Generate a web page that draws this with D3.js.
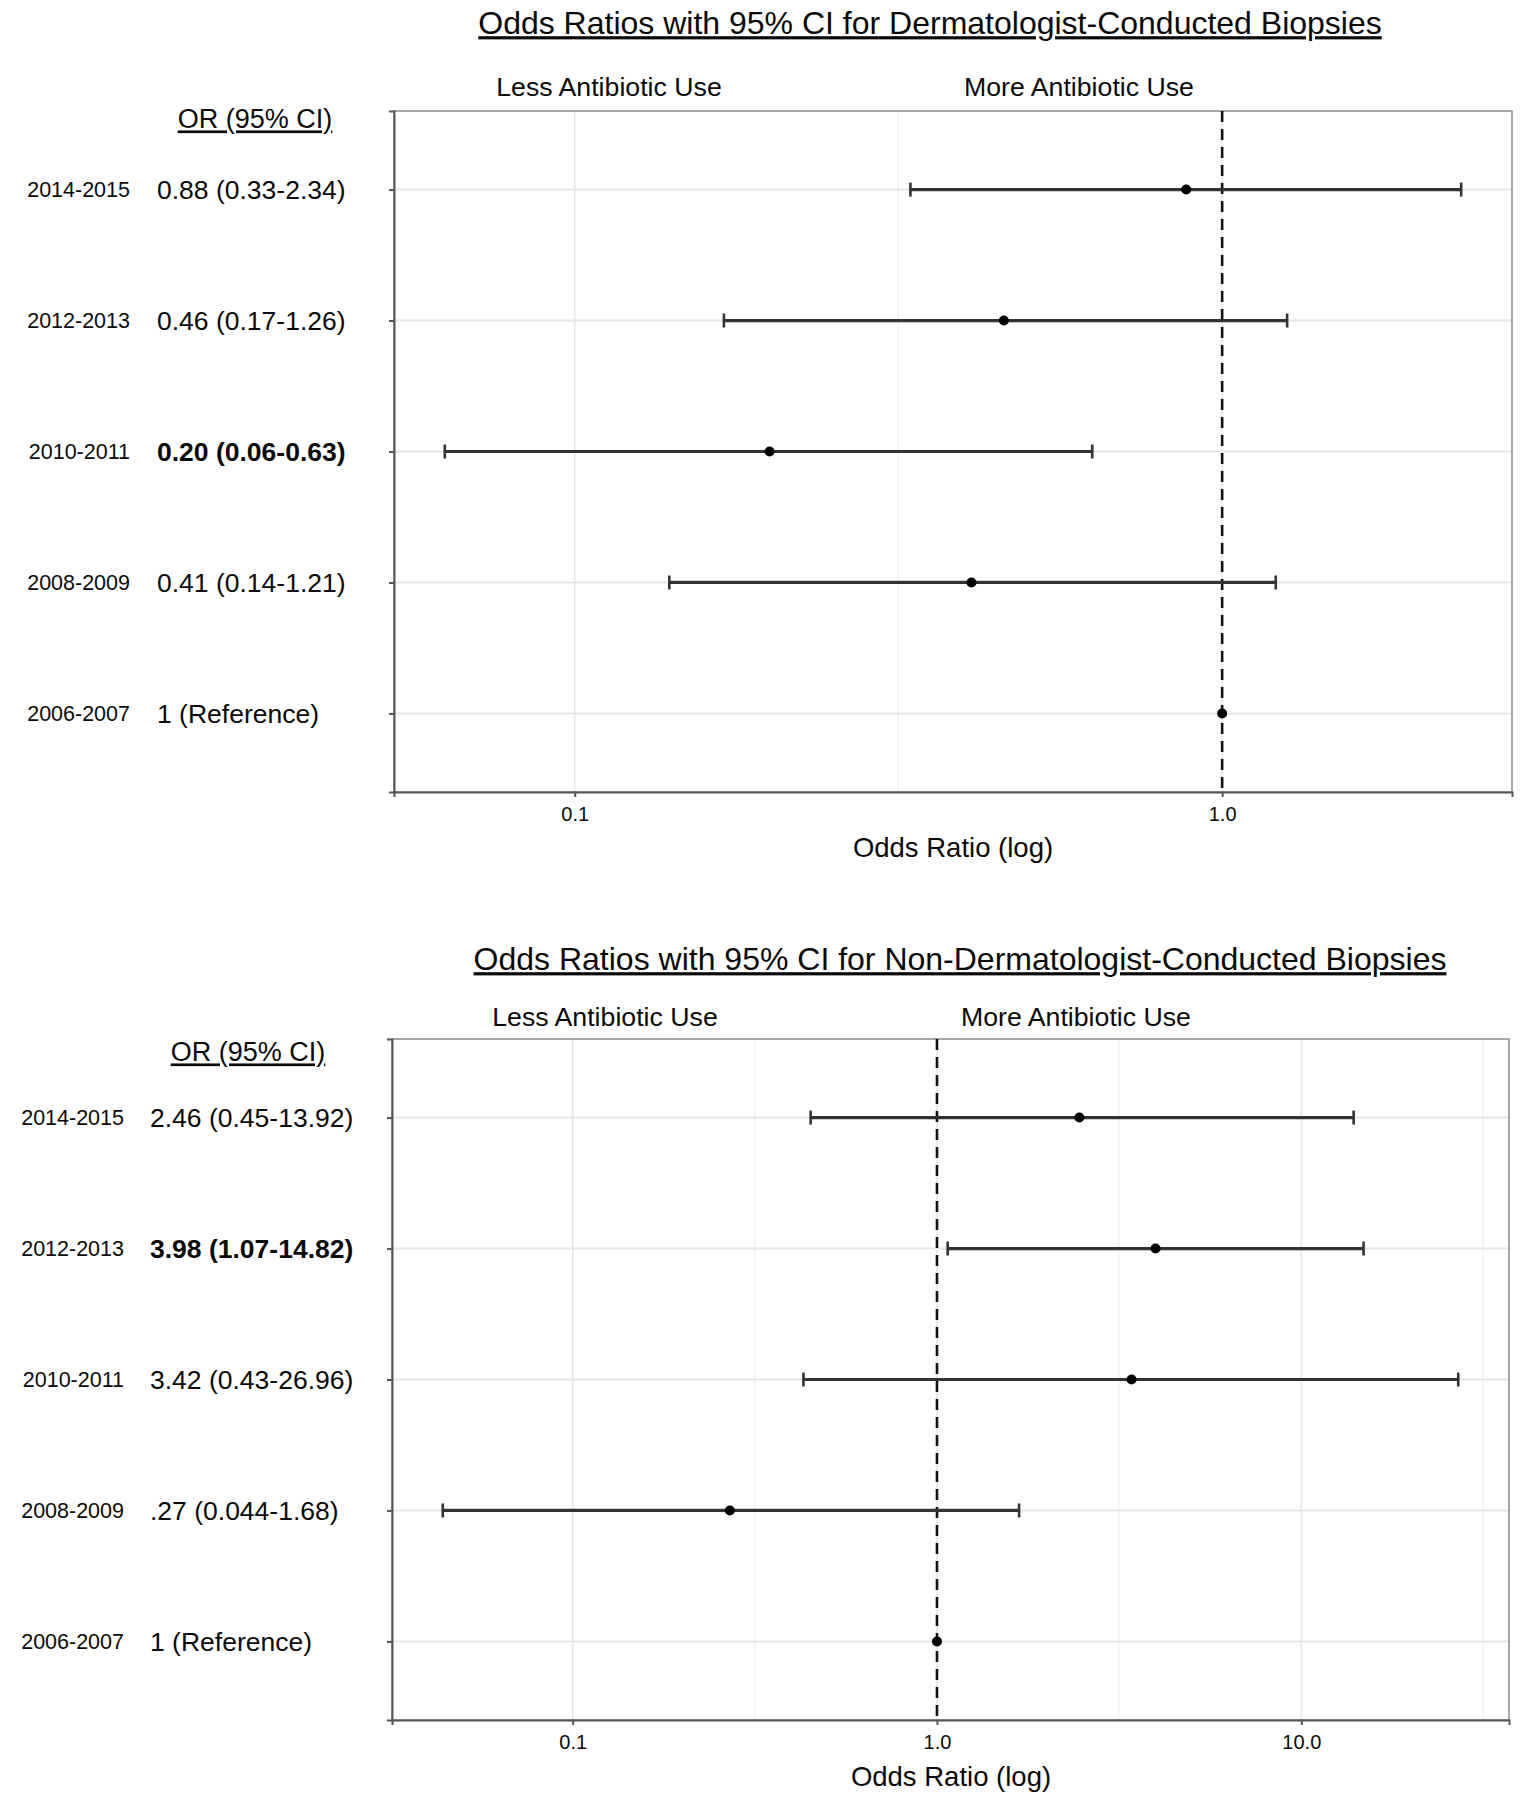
<!DOCTYPE html>
<head>
  <meta charset="utf-8">
  <title>Odds Ratios with 95% CI</title>
  <style>
    body { margin: 0; background: #fff; }
    svg text { font-family: "Liberation Sans", Arial, sans-serif; fill: #0a0a0a; }
  </style>
</head>
<body>
<script src="https://d3js.org/d3.v7.min.js"></script>
<script>
// Rows, top to bottom
var years = ["2014-2015", "2012-2013", "2010-2011", "2008-2009", "2006-2007"];

// Dermatologist-conducted biopsies
var dermOR = [0.88, 0.46, 0.20, 0.41, 1];
var dermLo = [0.33, 0.17, 0.063, 0.14, null];
var dermHi = [2.34, 1.26, 0.63, 1.21, null];
var dermText = ["0.88 (0.33-2.34)", "0.46 (0.17-1.26)", "0.20 (0.06-0.63)", "0.41 (0.14-1.21)", "1 (Reference)"];
var dermBold = [false, false, true, false, false];

// Non-dermatologist-conducted biopsies
var nonOR = [2.46, 3.98, 3.42, 0.27, 1];
var nonLo = [0.45, 1.07, 0.43, 0.044, null];
var nonHi = [13.92, 14.82, 26.96, 1.68, null];
var nonText = ["2.46 (0.45-13.92)", "3.98 (1.07-14.82)", "3.42 (0.43-26.96)", ".27 (0.044-1.68)", "1 (Reference)"];
var nonBold = [false, true, false, false, false];

// x axis breaks
var majorTicks = [0.1, 1, 10];
var majorLabels = ["0.1", "1.0", "10.0"];
var minorTicks = [0.0316, 0.316, 3.16, 31.6];

var svg = d3.select("body").append("svg")
    .attr("width", 1533)
    .attr("height", 1800);

function drawForest(opt) {
  var g = svg.append("g");
  var rows = years.map(function(y, i) {
    return {year: y, or: opt.or[i], lo: opt.lo[i], hi: opt.hi[i], text: opt.text[i], bold: opt.bold[i]};
  });

  // log domain with 5% expansion, like ggplot
  var vals = [];
  rows.forEach(function(d) { vals.push(d.or); if (d.lo) vals.push(d.lo); if (d.hi) vals.push(d.hi); });
  var ext = d3.extent(vals).map(Math.log10);
  var pad = (ext[1] - ext[0]) * 0.05;

  var x = d3.scaleLog()
      .domain([Math.pow(10, ext[0] - pad), Math.pow(10, ext[1] + pad)])
      .range([opt.x0, opt.x1]);
  var y = d3.scalePoint()
      .domain(years)
      .range([opt.y0, opt.y1])
      .padding(0.6);
  var dom = x.domain();
  var inDom = function(v) { return v >= dom[0] && v <= dom[1]; };

  // grid
  g.selectAll(".minor").data(minorTicks.filter(inDom)).enter().append("line")
      .attr("x1", x).attr("x2", x)
      .attr("y1", opt.y0).attr("y2", opt.y1)
      .attr("stroke", "#f2f2f2").attr("stroke-width", 1.5);
  g.selectAll(".major").data(majorTicks.filter(inDom)).enter().append("line")
      .attr("x1", x).attr("x2", x)
      .attr("y1", opt.y0).attr("y2", opt.y1)
      .attr("stroke", "#e6e6e6").attr("stroke-width", 1.5);
  g.selectAll(".hgrid").data(years).enter().append("line")
      .attr("x1", opt.x0).attr("x2", opt.x1)
      .attr("y1", y).attr("y2", y)
      .attr("stroke", "#e6e6e6").attr("stroke-width", 2);

  // panel border
  g.append("rect")
      .attr("x", opt.x0).attr("y", opt.y0)
      .attr("width", opt.x1 - opt.x0).attr("height", opt.y1 - opt.y0)
      .attr("fill", "none").attr("stroke", "#8a8a8a").attr("stroke-width", 1.5);

  // x axis
  var xAxis = g.append("g")
      .attr("transform", "translate(0," + opt.y1 + ")")
      .call(d3.axisBottom(x)
        .tickValues(majorTicks.filter(inDom))
        .tickFormat(function(d) { return majorLabels[majorTicks.indexOf(d)]; })
        .tickSize(5).tickPadding(10));
  xAxis.select(".domain").attr("stroke", "#555").attr("stroke-width", 2);
  xAxis.selectAll(".tick line").attr("stroke", "#555").attr("stroke-width", 2);
  xAxis.selectAll(".tick text")
      .style("font-family", "Liberation Sans, Arial, sans-serif")
      .style("font-size", "20px").attr("fill", "#555");

  // y axis ticks only
  var yAxis = g.append("g")
      .attr("transform", "translate(" + opt.x0 + ",0)")
      .call(d3.axisLeft(y).tickSize(5).tickFormat(""));
  yAxis.select(".domain").attr("stroke", "#555").attr("stroke-width", 2);
  yAxis.selectAll(".tick line").attr("stroke", "#555").attr("stroke-width", 2);

  // reference line
  g.append("line")
      .attr("x1", x(1)).attr("x2", x(1))
      .attr("y1", opt.y0).attr("y2", opt.y1)
      .attr("stroke", "#111").attr("stroke-width", 2.6)
      .attr("stroke-dasharray", "11,7");

  // error bars
  var ci = rows.filter(function(d) { return d.lo != null; });
  g.selectAll(".ci").data(ci).enter().append("line")
      .attr("x1", function(d) { return x(d.lo); })
      .attr("x2", function(d) { return x(d.hi); })
      .attr("y1", function(d) { return y(d.year); })
      .attr("y2", function(d) { return y(d.year); })
      .attr("stroke", "#333").attr("stroke-width", 3.2);
  ["lo", "hi"].forEach(function(k) {
    g.selectAll(".cap" + k).data(ci).enter().append("line")
        .attr("x1", function(d) { return x(d[k]); })
        .attr("x2", function(d) { return x(d[k]); })
        .attr("y1", function(d) { return y(d.year) - 7; })
        .attr("y2", function(d) { return y(d.year) + 7; })
        .attr("stroke", "#333").attr("stroke-width", 2.6);
  });
  g.selectAll(".pt").data(rows).enter().append("circle")
      .attr("cx", function(d) { return x(d.or); })
      .attr("cy", function(d) { return y(d.year); })
      .attr("r", 5).attr("fill", "#000");

  // row labels
  g.selectAll(".yr").data(rows).enter().append("text")
      .attr("x", opt.yearX).attr("y", function(d) { return y(d.year); })
      .attr("dy", "0.35em").attr("text-anchor", "end")
      .style("font-size", "21.5px")
      .text(function(d) { return d.year; });
  g.selectAll(".ortxt").data(rows).enter().append("text")
      .attr("x", opt.textX).attr("y", function(d) { return y(d.year); })
      .attr("dy", "0.35em")
      .style("font-size", "26.5px")
      .style("font-weight", function(d) { return d.bold ? "bold" : "normal"; })
      .text(function(d) { return d.text; });
  g.append("text")
      .attr("x", opt.orHeadX).attr("y", opt.orHeadY)
      .attr("dy", "0.35em").attr("text-anchor", "middle")
      .style("font-size", "27px").style("text-decoration", "underline")
      .text("OR (95% CI)");

  // titles
  g.append("text")
      .attr("x", opt.titleX).attr("y", opt.titleY)
      .attr("dy", "0.35em").attr("text-anchor", "middle")
      .style("font-size", "32px").style("text-decoration", "underline")
      .text(opt.title);
  g.append("text")
      .attr("x", opt.lessX).attr("y", opt.sideY)
      .attr("dy", "0.35em").attr("text-anchor", "middle")
      .style("font-size", "26.7px")
      .text("Less Antibiotic Use");
  g.append("text")
      .attr("x", opt.moreX).attr("y", opt.sideY)
      .attr("dy", "0.35em").attr("text-anchor", "middle")
      .style("font-size", "26.7px")
      .text("More Antibiotic Use");
  g.append("text")
      .attr("x", opt.axisTitleX).attr("y", opt.axisTitleY)
      .attr("dy", "0.35em").attr("text-anchor", "middle")
      .style("font-size", "27.5px").attr("fill", "#222")
      .text("Odds Ratio (log)");
}

drawForest({
  or: dermOR, lo: dermLo, hi: dermHi, text: dermText, bold: dermBold,
  title: "Odds Ratios with 95% CI for Dermatologist-Conducted Biopsies",
  x0: 394, x1: 1512, y0: 111, y1: 792,
  yearX: 130, textX: 157, orHeadX: 255, orHeadY: 119,
  titleX: 930, titleY: 23, lessX: 609, moreX: 1079, sideY: 87,
  axisTitleX: 953, axisTitleY: 847
});

drawForest({
  or: nonOR, lo: nonLo, hi: nonHi, text: nonText, bold: nonBold,
  title: "Odds Ratios with 95% CI for Non-Dermatologist-Conducted Biopsies",
  x0: 392, x1: 1509, y0: 1039, y1: 1720,
  yearX: 124, textX: 150, orHeadX: 248, orHeadY: 1052,
  titleX: 960, titleY: 959, lessX: 605, moreX: 1076, sideY: 1017,
  axisTitleX: 951, axisTitleY: 1776
});
</script>
</body>
